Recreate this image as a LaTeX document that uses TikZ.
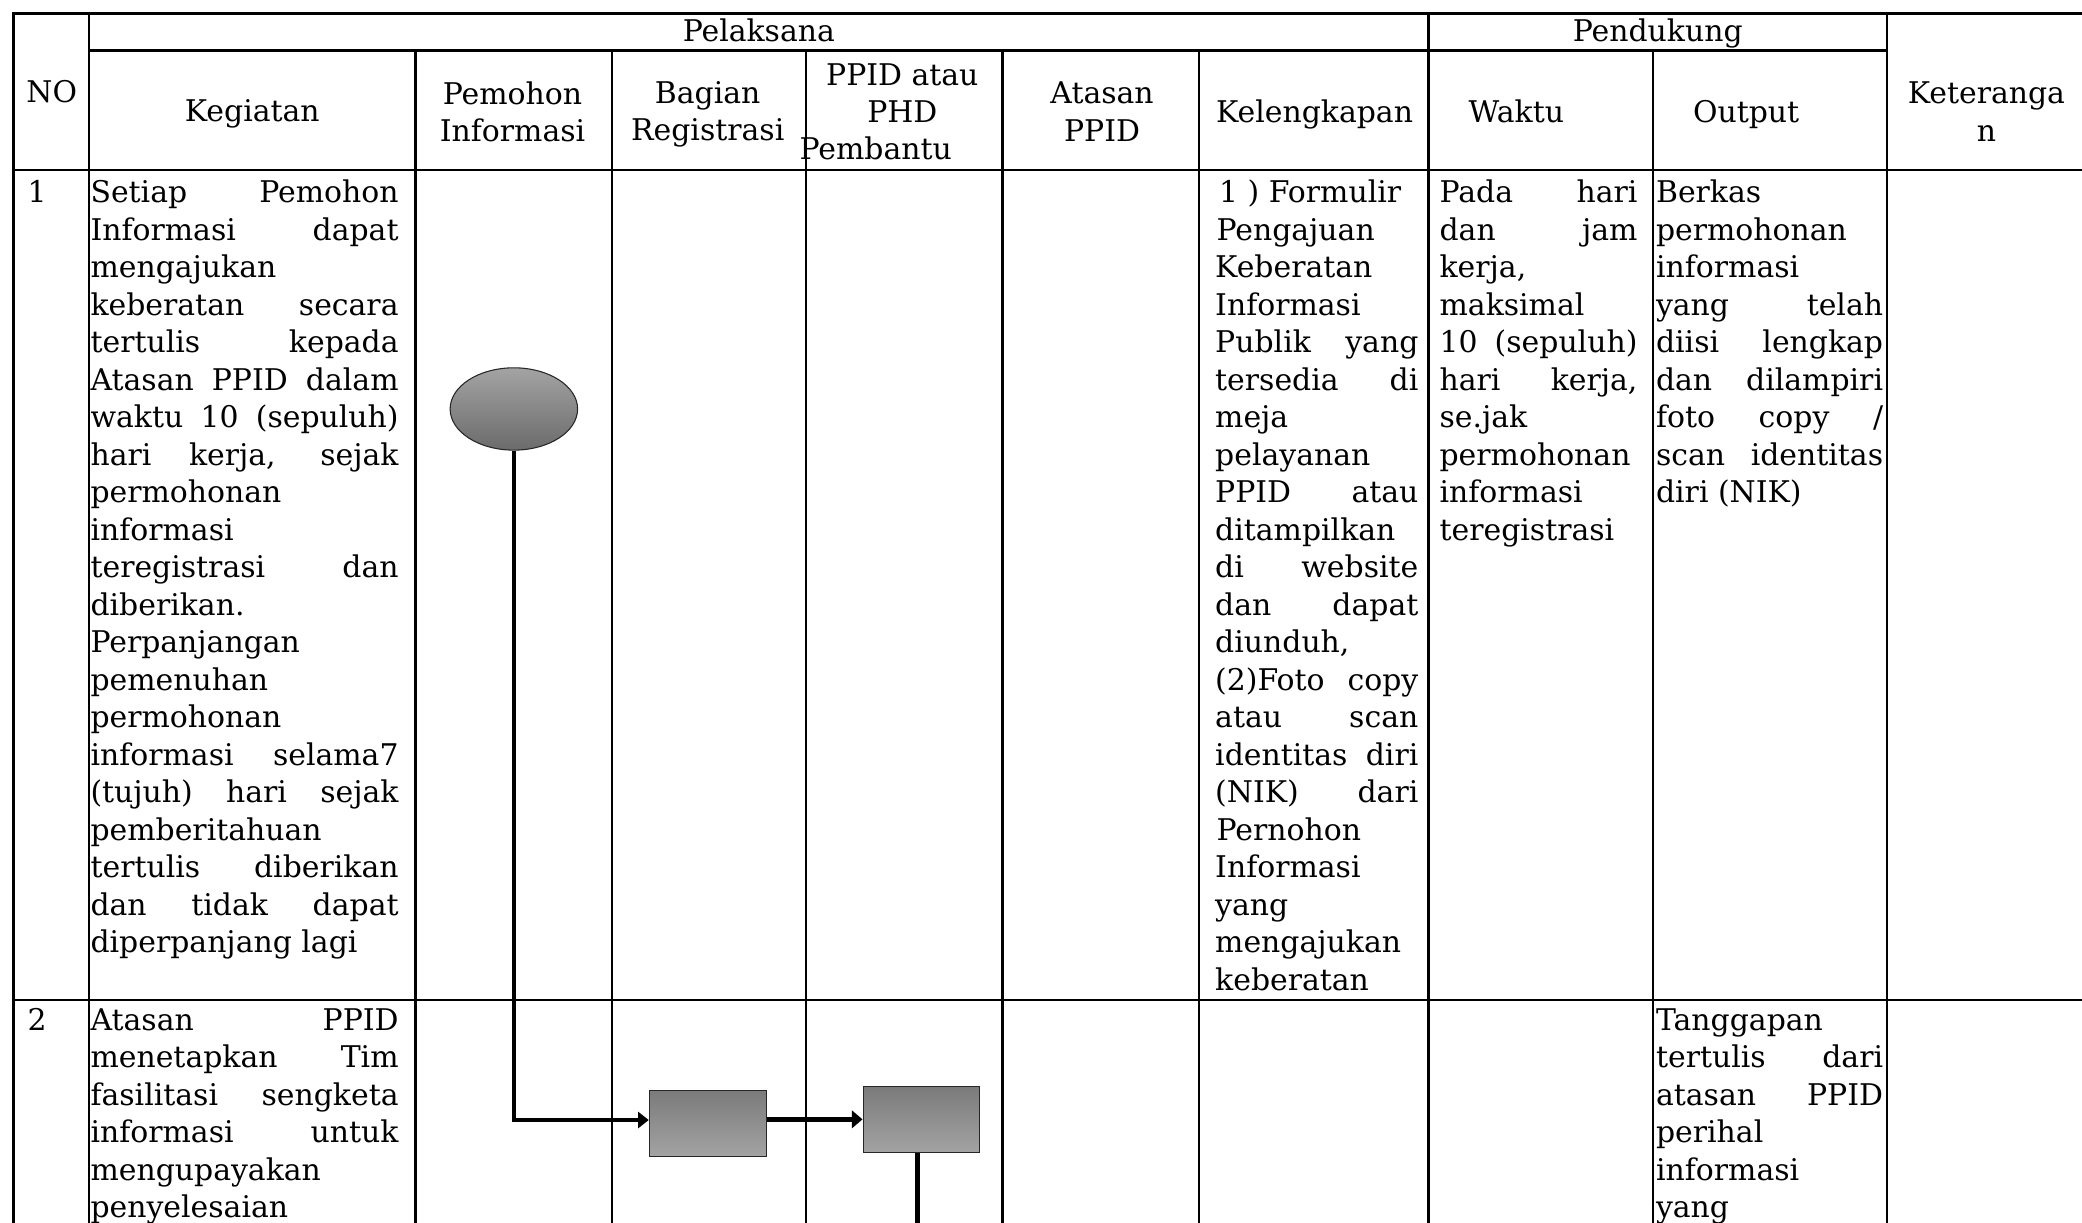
\documentclass[tikz,border=0pt]{standalone}
\usepackage{fontspec}
\setmainfont{DejaVu Serif}
\usetikzlibrary{shapes.geometric,arrows.meta}

% one justified line of a table cell (spaces stretched to the full width)
\newcommand\jx[1]{\makebox[\linewidth][s]{#1}}
% a table cell body: fixed width, first baseline on the node's base
\newcommand\celltext[2]{\parbox[t]{#1}{\fontsize{22.5}{28.25}\selectfont #2}}

\tikzset{
  grid/.style={line width=1.9pt, line cap=rect},
  hdr/.style={font=\fontsize{22.5}{28}\selectfont, inner sep=0, align=center},
  body/.style={anchor=base west, inner sep=0},
  num/.style={anchor=base, inner sep=0, font=\fontsize{22.5}{28}\selectfont},
  flow/.style={line width=3.2pt, -{Triangle[length=8pt,width=12pt]}},
  flowthick/.style={line width=3.8pt, -{Triangle[length=8pt,width=13pt]}},
  startshape/.style={ellipse, draw=black!85, line width=0.8pt,
    minimum width=96pt, minimum height=62pt, inner sep=0,
    top color=black!36, bottom color=black!58},
  procbox/.style={rectangle, draw=black!85, line width=0.8pt,
    minimum width=88pt, minimum height=50pt, inner sep=0,
    top color=black!52, bottom color=black!36},
}

\begin{document}
\begin{tikzpicture}[x=1pt,y=-1pt]
\useasboundingbox (0,0) rectangle (1568,921);
\clip (0,0) rectangle (1568,921);
\fill[white] (0,0) rectangle (1568,921);

% ---- header texts
\node[hdr] (hno) at (39,69) {NO};
\node[hdr, anchor=base] (hpel) at (571.5,31) {Pelaksana};
\node[hdr, anchor=base] (hpen) at (1248.5,31) {Pendukung};
\node[hdr] (hkeg) at (190,86) {Kegiatan};
\node[hdr] (hpem) at (386,84) {Pemohon\\Informasi};
\node[hdr] (hbag) at (533,86) {Bagian\\Registrasi};
\node[hdr, align=left, anchor=west] (hppid) at (602,84) {\hspace*{20pt}PPID atau\\\hspace*{51pt}PHD\\Pembantu};
\node[hdr] (hata) at (830,84) {Atasan\\PPID};
\node[hdr] (hkel) at (990,86) {Kelengkapan};
\node[hdr] (hwak) at (1142,84) {Waktu};
\node[hdr] (hout) at (1315,86) {Output};
\node[hdr] (hket) at (1496,84) {Keteranga\\n};

% ---- row numbers
\node[num] (n1) at (28,152.6) {1};
\node[num] (n2) at (28,776) {2};

% ---- row 1
\node[body] (keg1) at (68,152.6) {\celltext{232pt}{%
\jx{Setiap Pemohon}\\
\jx{Informasi dapat}\\
mengajukan\\
\jx{keberatan secara}\\
\jx{tertulis kepada}\\
\jx{Atasan PPID dalam}\\
\jx{waktu 10 (sepuluh)}\\
\jx{hari kerja, sejak}\\
permohonan\\
informasi\\
\jx{teregistrasi dan}\\
diberikan.\\
Perpanjangan\\
pemenuhan\\
permohonan\\
\jx{informasi selama7}\\
\jx{(tujuh) hari sejak}\\
pemberitahuan\\
\jx{tertulis diberikan}\\
\jx{dan tidak dapat}\\
diperpanjang lagi}};

\node[body] (kel1) at (915,152.6) {\celltext{153pt}{%
\hspace*{3pt}1 ) Formulir\\
\hspace*{1pt}Pengajuan\\
Keberatan\\
Informasi\\
\jx{Publik yang}\\
\jx{tersedia di}\\
meja\\
pelayanan\\
\jx{PPID atau}\\
ditampilkan\\
\jx{di website}\\
\jx{dan dapat}\\
diunduh,\\
\jx{(2)Foto copy}\\
\jx{atau scan}\\
\jx{identitas diri}\\
\jx{(NIK) dari}\\
\hspace*{1pt}Pernohon\\
Informasi\\
yang\\
mengajukan\\
keberatan}};

\node[body] (wak1) at (1084,152.6) {\celltext{149pt}{%
\jx{Pada hari}\\
\jx{dan jam}\\
kerja,\\
maksimal\\
\jx{10 (sepuluh)}\\
\jx{hari kerja,}\\
se.jak\\
permohonan\\
informasi\\
teregistrasi}};

\node[body] (out1) at (1247,152.6) {\celltext{171pt}{%
Berkas\\
permohonan\\
informasi\\
\jx{yang telah}\\
\jx{diisi lengkap}\\
\jx{dan dilampiri}\\
\jx{foto copy /}\\
\jx{scan identitas}\\
diri (NIK)}};

% ---- row 2
\node[body] (keg2) at (68,776) {\celltext{232pt}{%
\jx{Atasan PPID}\\
\jx{menetapkan Tim}\\
\jx{fasilitasi sengketa}\\
\jx{informasi untuk}\\
mengupayakan\\
penyelesaian}};

\node[body] (out2) at (1247,776) {\celltext{171pt}{%
Tanggapan\\
\jx{tertulis dari}\\
\jx{atasan PPID}\\
perihal\\
informasi\\
yang}};

% ---- table rules
\draw[grid] (10,10) -- (1580,10);
\draw[grid] (67,38) -- (1421,38);
\draw[grid] (10,128) -- (1580,128);
\draw[grid] (10,753) -- (1580,753);
\draw[grid] (10,10) -- (10,935);
\foreach \x in {67,1076,1421} \draw[grid] (\x,10) -- (\x,935);
\foreach \x in {313,461,607,755,903,1245} \draw[grid] (\x,38) -- (\x,935);

% ---- flow
\node[startshape] (start) at (387,308) {};
\node[procbox] (reg) at (533,846) {};
\node[procbox] (ppid) at (694,843) {};
\coordinate (down) at (691,940);

\draw[flow] (start.south) |- ([yshift=2.5pt]reg.west);
\draw[flowthick] (reg.east |- ppid.west) -- (ppid.west);
\draw[line width=3.4pt] (ppid.south -| down) -- (down);
\end{tikzpicture}
\end{document}
